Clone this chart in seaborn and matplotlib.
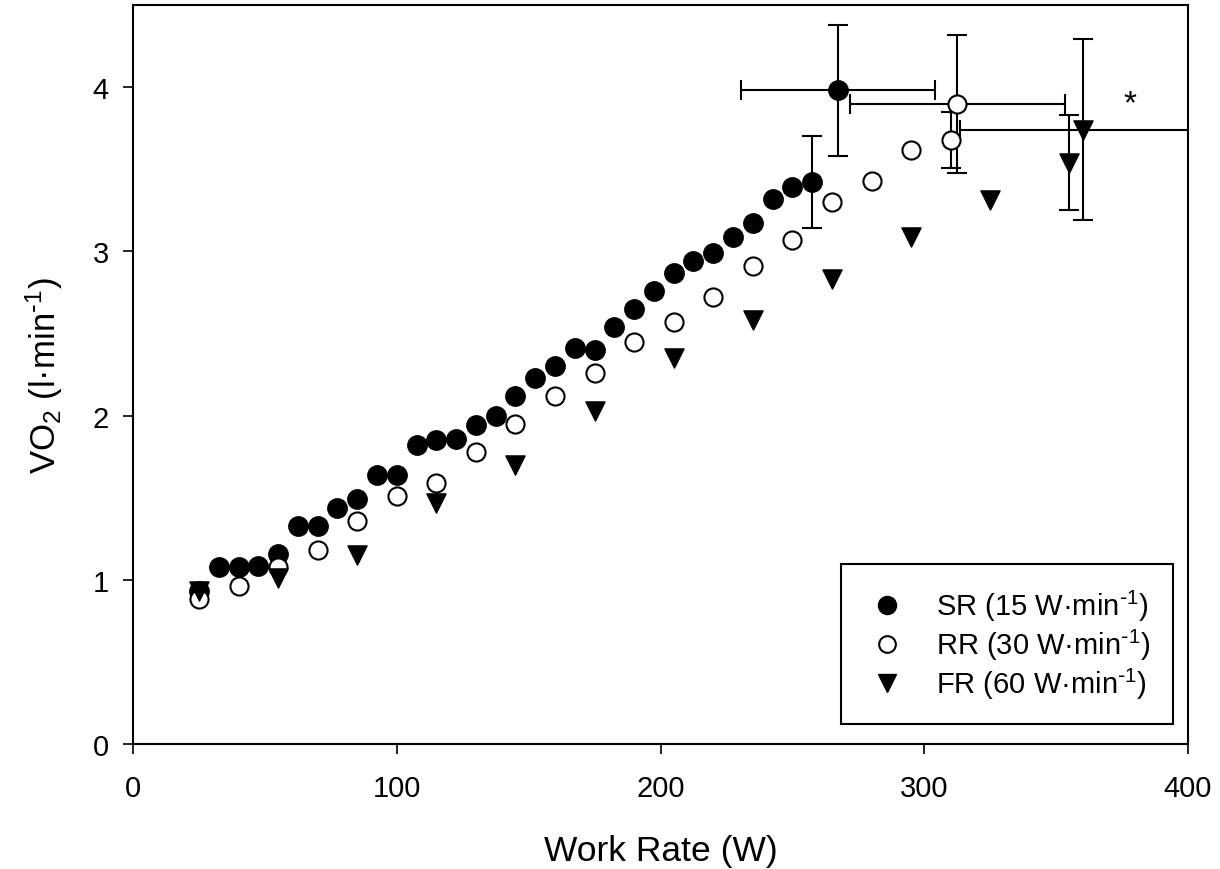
import matplotlib
matplotlib.use("Agg")
import matplotlib.pyplot as plt
import seaborn as sns
import pandas as pd
from matplotlib.lines import Line2D

# ---- data ----
sr_x = [25, 32.5, 40, 47.5, 55, 62.5, 70, 77.5, 85, 92.5, 100, 107.5, 115, 122.5,
        130, 137.5, 145, 152.5, 160, 167.5, 175, 182.5, 190, 197.5, 205, 212.5,
        220, 227.5, 235, 242.5, 250, 257.5]
sr_y = [0.93, 1.08, 1.08, 1.085, 1.16, 1.33, 1.33, 1.44, 1.49, 1.64, 1.64, 1.82,
        1.85, 1.86, 1.94, 2.00, 2.12, 2.23, 2.30, 2.41, 2.40, 2.54, 2.65, 2.76,
        2.87, 2.94, 2.99, 3.09, 3.17, 3.32, 3.39, 3.42]
rr_x = [25, 40, 55, 70, 85, 100, 115, 130, 145, 160, 175, 190, 205, 220, 235,
        250, 265, 280, 295, 310]
rr_y = [0.88, 0.96, 1.08, 1.18, 1.36, 1.51, 1.59, 1.78, 1.95, 2.12, 2.26, 2.45,
        2.57, 2.72, 2.91, 3.07, 3.30, 3.43, 3.62, 3.68]
fr_x = [25, 55, 85, 115, 145, 175, 205, 235, 265, 295, 325, 355]
fr_y = [0.93, 1.01, 1.15, 1.47, 1.70, 2.03, 2.35, 2.58, 2.83, 3.09, 3.31, 3.54]

# last-stage values with SD (vertical)
last_x = [257.5, 310, 355]
last_y = [3.42, 3.68, 3.54]
last_yerr = [0.28, 0.17, 0.29]

# peak values with SD (both directions)
peak_x = [267.3, 312.5, 360]
peak_y = [3.98, 3.90, 3.74]
peak_xerr = [36.7, 40.8, 46.3]
peak_yerr = [0.40, 0.42, 0.55]

labels = [r"SR (15 W·min$^{\text{-}1}$)", r"RR (30 W·min$^{\text{-}1}$)",
          r"FR (60 W·min$^{\text{-}1}$)"]

xticks = [0, 100, 200, 300, 400]
yticks = [0, 1, 2, 3, 4]

# ---- style ----
sns.set_style("ticks", {"text.color": "black", "axes.labelcolor": "black",
                        "xtick.color": "black", "ytick.color": "black",
                        "axes.edgecolor": "black"})
plt.rcParams["font.family"] = ["Liberation Sans", "DejaVu Sans"]
plt.rcParams["mathtext.default"] = "regular"

fig = plt.figure(figsize=(12.2, 8.7), dpi=100)
ax = fig.add_axes([133 / 1220, 1 - 745 / 870, (1188 - 133) / 1220, (745 - 6) / 870])

# error bars (under markers)
eb_kw = dict(fmt="none", ecolor="black", elinewidth=1.5, capsize=7.5, capthick=1.5, zorder=2)
ax.errorbar(last_x, last_y, yerr=last_yerr, **eb_kw)
ax.errorbar(peak_x, peak_y, xerr=peak_xerr, yerr=peak_yerr, **eb_kw)

sr_df = pd.DataFrame({"x": sr_x + [peak_x[0]], "y": sr_y + [peak_y[0]]})
rr_df = pd.DataFrame({"x": rr_x + [peak_x[1]], "y": rr_y + [peak_y[1]]})
fr_df = pd.DataFrame({"x": fr_x + [peak_x[2]], "y": fr_y + [peak_y[2]]})

sns.scatterplot(data=sr_df, x="x", y="y", ax=ax, marker="o", s=190,
                facecolor="black", edgecolor="black", linewidth=1.2, zorder=3)
sns.scatterplot(data=rr_df, x="x", y="y", ax=ax, marker="o", s=170,
                facecolor="white", edgecolor="black", linewidth=1.5, zorder=4)
sns.scatterplot(data=fr_df, x="x", y="y", ax=ax, marker="v", s=190,
                facecolor="black", edgecolor="black", linewidth=1.0, zorder=5)

ax.text(378, 3.90, "*", fontsize=24, ha="center", va="center", color="black")

ax.set_xlim(0, 400)
ax.set_ylim(0, 4.5)
ax.set_xticks(xticks)
ax.set_yticks(yticks)
ax.tick_params(axis="both", direction="out", length=7.5, width=1.2, labelsize=21,
               color="black", labelcolor="black")
ax.tick_params(axis="x", pad=14)
ax.tick_params(axis="y", pad=10)
for sp in ax.spines.values():
    sp.set_visible(True)
    sp.set_linewidth(1.5)
    sp.set_color("black")

ax.set_xlabel("Work Rate (W)", fontsize=25.5, labelpad=23, color="black")
ax.set_ylabel(r"VO$_2$ (l·min$^{\text{-}1}$)", fontsize=25, labelpad=20, color="black")

handles = [
    Line2D([], [], ls="none", marker="o", ms=13, mfc="black", mec="black"),
    Line2D([], [], ls="none", marker="o", ms=12, mfc="white", mec="black", mew=1.5),
    Line2D([], [], ls="none", marker="v", ms=13, mfc="black", mec="black"),
]
leg = ax.legend(handles, labels, loc="lower right", bbox_to_anchor=(0.986, 0.027),
                borderaxespad=0, fontsize=21, frameon=True, fancybox=False,
                edgecolor="black", framealpha=1, borderpad=0.8, labelspacing=0.13,
                handletextpad=0.9, handlelength=1.55)
leg.get_frame().set_linewidth(1.5)
for t in leg.get_texts():
    t.set_color("black")

fig.savefig("out.png", dpi=100)
